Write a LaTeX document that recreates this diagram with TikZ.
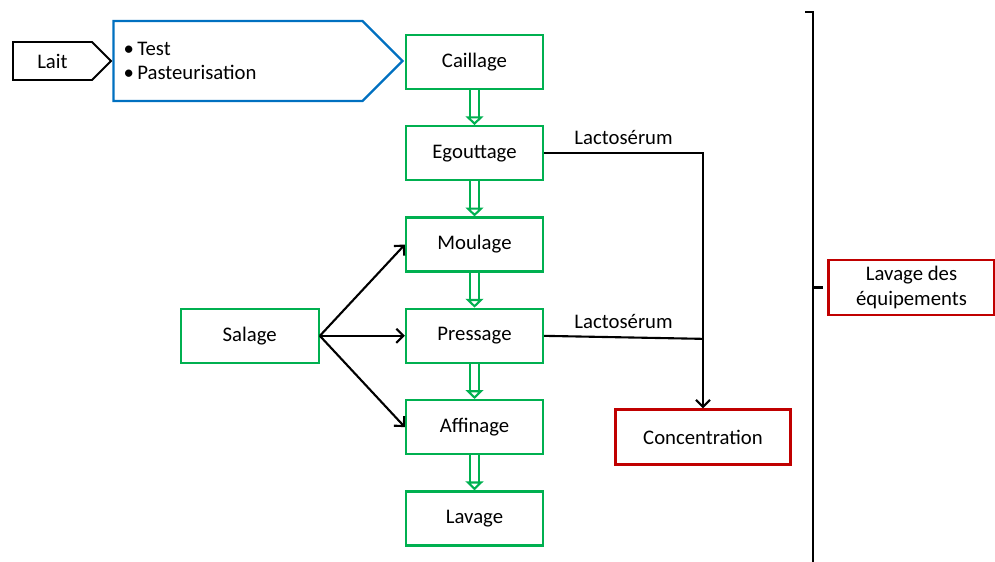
\documentclass[tikz,border=0pt]{standalone}
\usepackage{fontspec}
\setmainfont{Carlito}
\usepackage{tikz}
\usetikzlibrary{arrows.meta,positioning,shapes.symbols}
\definecolor{leaf}{RGB}{0,176,80}
\definecolor{ocean}{RGB}{0,112,192}
\definecolor{brick}{RGB}{192,0,0}

\begin{document}
\begin{tikzpicture}[
  every node/.style={font=\fontsize{11.8}{14}\selectfont},
  etape/.style={draw=leaf, line width=1.3pt, minimum width=2.74cm, minimum height=1.08cm, align=center},
  sortie/.style={draw=brick, line width=1.3pt, minimum height=1.1cm, align=center},
  fleche/.style={draw=black, line width=1.1pt, shape=signal, signal to=east, signal pointer angle=90, anchor=west},
  flux/.style={leaf, line width=1.2pt, double=white, double distance=3.6pt, -{Triangle[open, fill=white, length=5pt, width=10pt]}},
  trait/.style={black, line width=1.2pt},
  node distance=0.7cm
]
\useasboundingbox (0,0) rectangle (19.9,-11.24);

\node[fleche, minimum width=1.96cm, minimum height=0.76cm] (lait) at (0.24,-1.22) {Lait};
\node[fleche, draw=ocean, line width=1.3pt, minimum width=5.78cm, minimum height=1.6cm] (prep) at (lait.east) {};
\node[anchor=west, align=left] (prepl) at ([xshift=0.1cm]prep.west) {\textbullet\,Test\\\textbullet\,Pasteurisation};

\node[etape] (caill) at (9.49,-1.24) {Caillage};
\node[etape, below=of caill] (egout) {Egouttage};
\node[etape, below=of egout] (moul) {Moulage};
\node[etape, below=of moul] (press) {Pressage};
\node[etape, below=of press] (affin) {Affinage};
\node[etape, below=of affin] (lav) {Lavage};
\node[etape, minimum width=2.76cm, left=1.7cm of press] (sal) {Salage};

\node[sortie, minimum width=3.5cm] (conc) at (14.06,-8.74) {Concentration};
\node[sortie, minimum width=3.32cm] (equip) at (18.23,-5.75) {Lavage des\\équipements};

\foreach \a/\b in {caill/egout, egout/moul, moul/press, press/affin, affin/lav}
  \draw[flux] (\a) -- (\b);
\foreach \b in {moul, press, affin}
  \draw[trait, -{Straight Barb[length=4pt,width=8pt]}] (sal.east) -- (\b.west);

\draw[trait, -{Straight Barb[length=4pt,width=8pt]}] (egout.east) -- node[above=1pt] {Lactosérum} (egout.east -| conc.north) -- (conc.north);
\draw[trait] (press.east) -- node[above=1pt] {Lactosérum} ([yshift=-0.06cm]press.east -| conc.north);

\coordinate (brtop) at (16.26,-0.24);
\coordinate (brbot) at (16.26,-11.3);
\draw[trait] ([xshift=-0.16cm]brtop) -- (brtop) -- (brbot);
\draw[trait] (brtop |- equip.west) -- ([xshift=-0.08cm]equip.west);
\end{tikzpicture}
\end{document}
